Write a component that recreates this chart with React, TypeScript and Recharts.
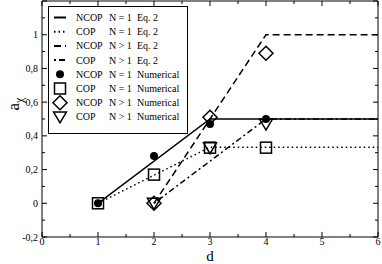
import React from 'react';
import { ComposedChart, Line, Scatter, XAxis, YAxis, ReferenceArea } from 'recharts';

// Eq. 2 curves
const ncopN1Eq = [
  { d: 1, a: 0 },
  { d: 3, a: 0.5 },
  { d: 6, a: 0.5 },
];
const copN1Eq = [
  { d: 1, a: 0 },
  { d: 3, a: 0.333 },
  { d: 6, a: 0.333 },
];
const ncopNgEq = [
  { d: 2, a: 0 },
  { d: 4, a: 1 },
  { d: 6, a: 1 },
];
const copNgEq = [
  { d: 2, a: 0 },
  { d: 4, a: 0.5 },
  { d: 6, a: 0.5 },
];

// numerical points
const ncopN1Num = [
  { d: 1, a: 0 },
  { d: 2, a: 0.28 },
  { d: 3, a: 0.47 },
  { d: 4, a: 0.5 },
];
const copN1Num = [
  { d: 1, a: 0 },
  { d: 2, a: 0.17 },
  { d: 3, a: 0.33 },
  { d: 4, a: 0.33 },
];
const ncopNgNum = [
  { d: 2, a: 0 },
  { d: 3, a: 0.51 },
  { d: 4, a: 0.89 },
];
const copNgNum = [
  { d: 2, a: 0 },
  { d: 3, a: 0.33 },
  { d: 4, a: 0.47 },
];

const xTicks = [0, 0.5, 1, 1.5, 2, 2.5, 3, 3.5, 4, 4.5, 5, 5.5, 6];
const yTicks = [-0.2, -0.1, 0, 0.1, 0.2, 0.3, 0.4, 0.5, 0.6, 0.7, 0.8, 0.9, 1, 1.1, 1.2];

const legendRows = [
  { kind: 'solid', model: 'NCOP', n: 'N = 1', src: 'Eq. 2' },
  { kind: 'dotted', model: 'COP', n: 'N = 1', src: 'Eq. 2' },
  { kind: 'dashed', model: 'NCOP', n: 'N > 1', src: 'Eq. 2' },
  { kind: 'dashdot', model: 'COP', n: 'N > 1', src: 'Eq. 2' },
  { kind: 'circle', model: 'NCOP', n: 'N = 1', src: 'Numerical' },
  { kind: 'square', model: 'COP', n: 'N = 1', src: 'Numerical' },
  { kind: 'diamond', model: 'NCOP', n: 'N > 1', src: 'Numerical' },
  { kind: 'triangle', model: 'COP', n: 'N > 1', src: 'Numerical' },
];

const FONT = '"Liberation Serif", "DejaVu Serif", serif';
const LEFT = 42;
const RIGHT = 378;
const TOP = 1;
const BOTTOM = 237;

const dash: Record<string, string | undefined> = {
  solid: undefined,
  dotted: '1.5 3',
  dashed: '7 4',
  dashdot: '2 3 6 3',
};

function marker(kind: string, cx: number, cy: number) {
  const sw = 1.5;
  if (kind === 'circle') return <circle cx={cx} cy={cy} r={4} fill="#000" />;
  if (kind === 'square')
    return <rect x={cx - 5.5} y={cy - 5.5} width={11} height={11} fill="none" stroke="#000" strokeWidth={sw} />;
  if (kind === 'diamond')
    return (
      <polygon
        points={`${cx},${cy - 7} ${cx + 7},${cy} ${cx},${cy + 7} ${cx - 7},${cy}`}
        fill="none"
        stroke="#000"
        strokeWidth={sw}
      />
    );
  return (
    <polygon
      points={`${cx - 6.5},${cy - 5} ${cx + 6.5},${cy - 5} ${cx},${cy + 6}`}
      fill="none"
      stroke="#000"
      strokeWidth={sw}
    />
  );
}

const shapeOf = (kind: string) => (props: any) => <g>{marker(kind, props.cx, props.cy)}</g>;

function isMajor(v: number, step: number) {
  const q = v / step;
  return Math.abs(q - Math.round(q)) < 1e-6;
}

function XTick(props: any) {
  const { x, payload } = props;
  const v = payload.value as number;
  const major = isMajor(v, 1);
  const len = major ? 5 : 3;
  return (
    <g>
      <line x1={x} y1={BOTTOM} x2={x} y2={BOTTOM - len} stroke="#000" />
      <line x1={x} y1={TOP} x2={x} y2={TOP + len} stroke="#000" />
      {major && (
        <text x={x} y={244.5} textAnchor="middle" fontSize={10} fontFamily={FONT} fill="#000">
          {String(v)}
        </text>
      )}
    </g>
  );
}

function YTick(props: any) {
  const { y, payload } = props;
  const v = payload.value as number;
  const major = isMajor(v, 0.2);
  const len = major ? 5 : 3;
  const label = String(Math.round(v * 10) / 10).replace('.', ',');
  return (
    <g>
      <line x1={LEFT} y1={y} x2={LEFT + len} y2={y} stroke="#000" />
      <line x1={RIGHT} y1={y} x2={RIGHT - len} y2={y} stroke="#000" />
      {major && v < 1.1 && (
        <text x={38} y={y} dy="0.35em" textAnchor="end" fontSize={10} fontFamily={FONT} fill="#000">
          {label}
        </text>
      )}
    </g>
  );
}

function ChartLegend() {
  const rowY0 = 17.5;
  const step = 14.2;
  return (
    <svg
      width={142}
      height={130}
      style={{ position: 'absolute', left: 47, top: 5 }}
    >
      <rect x={1.5} y={1.5} width={139} height={127} fill="#fff" stroke="#000" strokeWidth={1} />
      {legendRows.map((r, i) => {
        const y = rowY0 + i * step - 5;
        const isLine = r.kind in dash;
        return (
          <g key={i}>
            {isLine ? (
              <line
                x1={7}
                y1={y}
                x2={19}
                y2={y}
                stroke="#000"
                strokeWidth={2}
                strokeDasharray={dash[r.kind]}
              />
            ) : (
              marker(r.kind, 13, y)
            )}
            <text x={29} y={y} dy="0.35em" fontSize={10} fontFamily={FONT} fill="#000">
              {r.model}
            </text>
            <text x={62} y={y} dy="0.35em" fontSize={10} fontFamily={FONT} fill="#000">
              {r.n}
            </text>
            <text x={90} y={y} dy="0.35em" fontSize={10} fontFamily={FONT} fill="#000">
              {r.src}
            </text>
          </g>
        );
      })}
    </svg>
  );
}

export default function App() {
  return (
    <div style={{ position: 'relative', width: 382, height: 264 }}>
      <style>{'body{margin:0}'}</style>
      <ComposedChart width={382} height={264} margin={{ top: TOP, right: 382 - RIGHT, bottom: 0, left: 0 }}>
        <XAxis
          dataKey="d"
          type="number"
          domain={[0, 6]}
          ticks={xTicks}
          interval={0}
          height={264 - BOTTOM}
          axisLine={false}
          tickLine={false}
          tick={<XTick />}
          label={{
            content: () => (
              <text x={210} y={260.5} textAnchor="middle" fontSize={15} fontFamily={FONT} fill="#000">
                d
              </text>
            ),
          }}
        />
        <YAxis
          dataKey="a"
          type="number"
          domain={[-0.2, 1.2]}
          ticks={yTicks}
          interval={0}
          width={LEFT}
          axisLine={false}
          tickLine={false}
          tick={<YTick />}
          label={{
            content: () => (
              <text
                transform="translate(19,104) rotate(-90)"
                textAnchor="middle"
                fontFamily={FONT}
                fill="#000"
              >
                <tspan fontSize={17}>a</tspan>
                <tspan fontSize={12} dy={4}>χ</tspan>
              </text>
            ),
          }}
        />
        <ReferenceArea x1={0} x2={6} y1={-0.2} y2={1.2} fill="none" stroke="#000" strokeWidth={1} />
        <Line data={ncopN1Eq} dataKey="a" type="linear" stroke="#000" strokeWidth={1.5} dot={false} isAnimationActive={false} />
        <Line data={copN1Eq} dataKey="a" type="linear" stroke="#000" strokeWidth={1.5} strokeDasharray={dash.dotted} dot={false} isAnimationActive={false} />
        <Line data={ncopNgEq} dataKey="a" type="linear" stroke="#000" strokeWidth={1.5} strokeDasharray={dash.dashed} dot={false} isAnimationActive={false} />
        <Line data={copNgEq} dataKey="a" type="linear" stroke="#000" strokeWidth={1.5} strokeDasharray={dash.dashdot} dot={false} isAnimationActive={false} />
        <Scatter data={ncopN1Num} dataKey="a" shape={shapeOf('circle')} isAnimationActive={false} />
        <Scatter data={copN1Num} dataKey="a" shape={shapeOf('square')} isAnimationActive={false} />
        <Scatter data={ncopNgNum} dataKey="a" shape={shapeOf('diamond')} isAnimationActive={false} />
        <Scatter data={copNgNum} dataKey="a" shape={shapeOf('triangle')} isAnimationActive={false} />
      </ComposedChart>
      <ChartLegend />
    </div>
  );
}
